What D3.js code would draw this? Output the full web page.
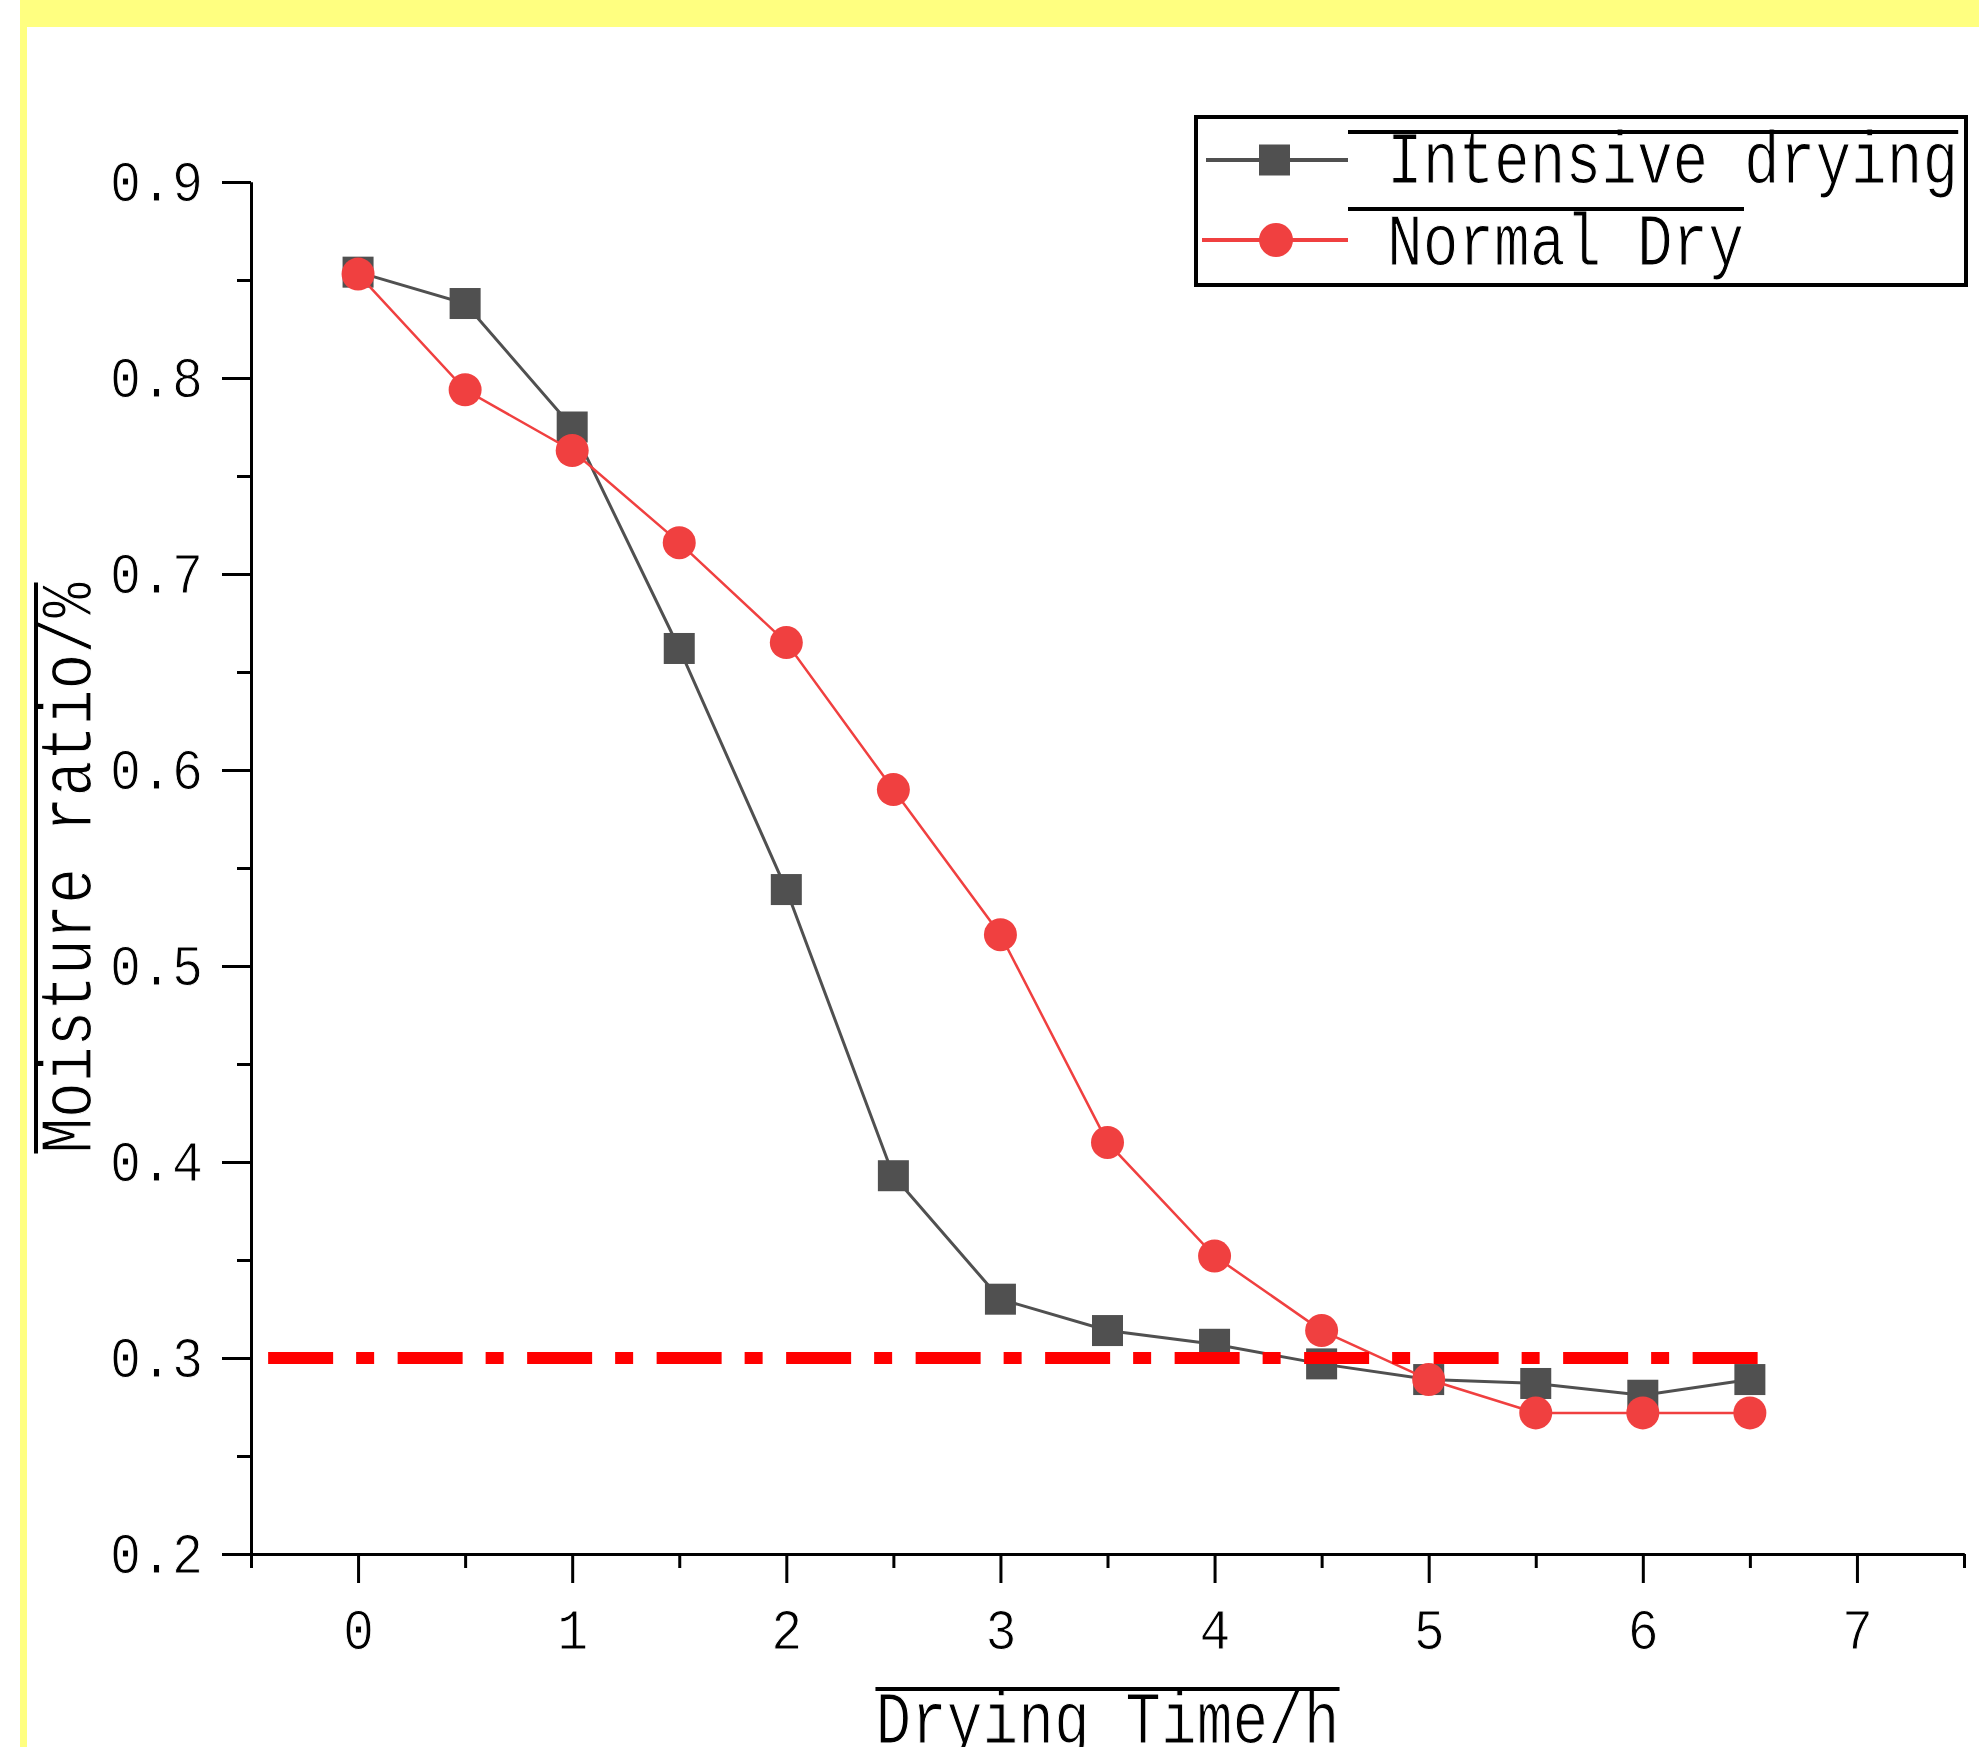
<!DOCTYPE html>
<html>
<head>
<meta charset="utf-8">
<script src="https://cdn.jsdelivr.net/npm/d3@7"></script>
<style>
  html, body { margin: 0; padding: 0; background: #fff; }
  svg { display: block; }
</style>
</head>
<body>
<svg id="chart" width="1979" height="1747"></svg>
<script>
// data
const dryingTime = [0, 0.5, 1, 1.5, 2, 2.5, 3, 3.5, 4, 4.5, 5, 5.5, 6, 6.5];
const intensiveDrying = [0.854, 0.838, 0.775, 0.662, 0.539, 0.393, 0.330, 0.314, 0.307, 0.297, 0.289, 0.287, 0.281, 0.289];
const normalDry = [0.853, 0.794, 0.763, 0.716, 0.665, 0.590, 0.516, 0.410, 0.352, 0.314, 0.289, 0.272, 0.272, 0.272];

const seriesNames = ["Intensive drying", "Normal Dry"];
const xTitle = "Drying Time/h";
const yTitle = "Moisture ratio/%";

const xDomain = [-0.5, 7.5];
const yDomain = [0.2, 0.9];
const xMajorTicks = [0, 1, 2, 3, 4, 5, 6, 7];
const xMinorTicks = [-0.5, 0.5, 1.5, 2.5, 3.5, 4.5, 5.5, 6.5, 7.5];
const yMajorTicks = [0.2, 0.3, 0.4, 0.5, 0.6, 0.7, 0.8, 0.9];
const yMinorTicks = [0.25, 0.35, 0.45, 0.55, 0.65, 0.75, 0.85];

const thresholdValue = 0.3;
const thresholdSpan = [-0.42, 6.54];

const FONT = "'Liberation Mono', 'Courier New', monospace";
const BIG = 75, BIG_ADV = 35.7;     // titles + legend
const SMALL = 58, SMALL_ADV = 31;   // tick labels
const BLACK = "#505050", RED = "#f04040";

window.addEventListener("DOMContentLoaded", draw);

// thin the glyphs a little, the original face is lighter
function thinText(sel, w) {
    return sel.attr("stroke", "#fff").attr("stroke-width", w).attr("paint-order", "fill");
}

function draw() {
    const svg = d3.select("#chart");

    // yellow frame of the screenshot
    svg.append("rect").attr("x", 20).attr("y", 0).attr("width", 1959).attr("height", 27).attr("fill", "#ffff80");
    svg.append("rect").attr("x", 20).attr("y", 0).attr("width", 7).attr("height", 1747).attr("fill", "#ffff80");

    const x = d3.scaleLinear().domain(xDomain).range([251, 1964]);
    const y = d3.scaleLinear().domain(yDomain).range([1554, 182]);
    const [x0, x1] = x.range();
    const [yb, yt] = y.range();

    // axes
    svg.append("g").attr("transform", `translate(0,${yb})`)
        .call(d3.axisBottom(x).tickValues(xMajorTicks).tickSize(29).tickSizeOuter(0).tickPadding(25)
            .tickFormat(d3.format("d")));
    svg.append("g").attr("transform", `translate(0,${yb})`)
        .call(d3.axisBottom(x).tickValues(xMinorTicks).tickSize(14).tickSizeOuter(0).tickFormat(""));

    svg.append("g").attr("transform", `translate(${x0},0)`)
        .call(d3.axisLeft(y).tickValues(yMajorTicks).tickSize(29).tickSizeOuter(0).tickPadding(19)
            .tickFormat(d3.format(".1f")));
    svg.append("g").attr("transform", `translate(${x0},0)`)
        .call(d3.axisLeft(y).tickValues(yMinorTicks).tickSize(14).tickSizeOuter(0).tickFormat(""));

    svg.selectAll(".domain, .tick line").attr("stroke", "#000").attr("stroke-width", 3);
    const tickText = svg.selectAll(".tick text")
        .attr("fill", "#000")
        .style("font-family", FONT)
        .style("font-size", SMALL + "px")
        .each(function() {
            const t = d3.select(this);
            t.attr("textLength", t.text().length * SMALL_ADV).attr("lengthAdjust", "spacingAndGlyphs");
        });
    thinText(tickText, 1);

    // series
    const pts = (vals) => dryingTime.map((t, i) => ({ t, v: vals[i] }));
    const line = d3.line().x(d => x(d.t)).y(d => y(d.v));

    svg.append("path").datum(pts(intensiveDrying))
        .attr("fill", "none").attr("stroke", BLACK).attr("stroke-width", 3).attr("d", line);
    svg.append("g").selectAll("rect").data(pts(intensiveDrying)).enter().append("rect")
        .attr("x", d => x(d.t) - 15.5).attr("y", d => y(d.v) - 15.5)
        .attr("width", 31).attr("height", 31).attr("fill", BLACK);

    svg.append("path").datum(pts(normalDry))
        .attr("fill", "none").attr("stroke", RED).attr("stroke-width", 2.5).attr("d", line);
    svg.append("g").selectAll("circle").data(pts(normalDry)).enter().append("circle")
        .attr("cx", d => x(d.t)).attr("cy", d => y(d.v)).attr("r", 16.5).attr("fill", RED);

    // 0.3 threshold
    svg.append("line")
        .attr("x1", x(thresholdSpan[0])).attr("x2", x(thresholdSpan[1]))
        .attr("y1", y(thresholdValue)).attr("y2", y(thresholdValue))
        .attr("stroke", "#ff0000").attr("stroke-width", 12)
        .attr("stroke-dasharray", "65,23,18,23.5");

    // axis titles (with the overline seen in the figure)
    const xtLen = xTitle.length * BIG_ADV;
    const xc = (x0 + x1) / 2;
    thinText(svg.append("text")
        .attr("x", xc).attr("y", 1743).attr("text-anchor", "middle")
        .attr("textLength", xtLen).attr("lengthAdjust", "spacingAndGlyphs")
        .style("font-family", FONT).style("font-size", BIG + "px").attr("fill", "#000")
        .text(xTitle), 1.2);
    svg.append("line").attr("x1", xc - xtLen / 2).attr("x2", xc + xtLen / 2)
        .attr("y1", 1689).attr("y2", 1689).attr("stroke", "#000").attr("stroke-width", 4);

    const ytLen = yTitle.length * BIG_ADV;
    const yc = (yb + yt) / 2;
    thinText(svg.append("text")
        .attr("transform", `translate(91,${yc}) rotate(-90)`).attr("text-anchor", "middle")
        .attr("textLength", ytLen).attr("lengthAdjust", "spacingAndGlyphs")
        .style("font-family", FONT).style("font-size", BIG + "px").attr("fill", "#000")
        .text(yTitle), 1.2);
    svg.append("line").attr("x1", 36).attr("x2", 36)
        .attr("y1", yc - ytLen / 2).attr("y2", yc + ytLen / 2).attr("stroke", "#000").attr("stroke-width", 4);

    // legend
    const legend = svg.append("g").attr("transform", "translate(1196,117)");
    legend.append("rect").attr("width", 770).attr("height", 168)
        .attr("fill", "#fff").attr("stroke", "#000").attr("stroke-width", 4);

    const rows = [
        { name: seriesNames[0], color: BLACK, shape: "square", cy: 43, base: 66, over: 15, lx: 10 },
        { name: seriesNames[1], color: RED, shape: "circle", cy: 123, base: 148, over: 92, lx: 6 }
    ];
    rows.forEach(r => {
        legend.append("line").attr("x1", r.lx).attr("x2", 152).attr("y1", r.cy).attr("y2", r.cy)
            .attr("stroke", r.color).attr("stroke-width", 4);
        if (r.shape === "square") {
            legend.append("rect").attr("x", 78.5 - 15.5).attr("y", r.cy - 15.5)
                .attr("width", 31).attr("height", 31).attr("fill", r.color);
        } else {
            legend.append("circle").attr("cx", 80).attr("cy", r.cy).attr("r", 17).attr("fill", r.color);
        }
        const len = r.name.length * BIG_ADV;
        thinText(legend.append("text")
            .attr("x", 191).attr("y", r.base)
            .attr("textLength", len).attr("lengthAdjust", "spacingAndGlyphs")
            .style("font-family", FONT).style("font-size", BIG + "px").attr("fill", "#000")
            .text(r.name), 1.2);
        legend.append("line").attr("x1", 152).attr("x2", 191 + len)
            .attr("y1", r.over).attr("y2", r.over).attr("stroke", "#000").attr("stroke-width", 4);
    });
}
</script>
</body>
</html>
